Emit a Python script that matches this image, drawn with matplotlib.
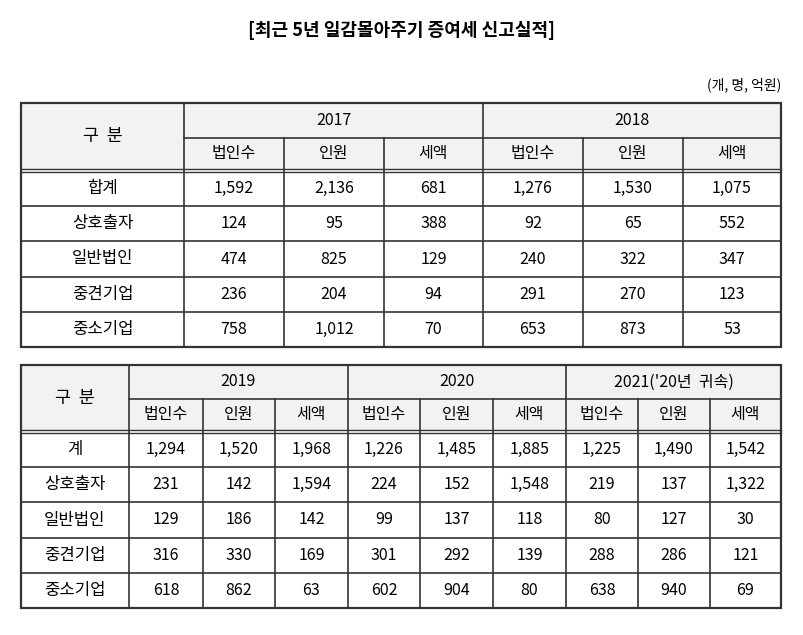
import matplotlib
matplotlib.use("Agg")
import matplotlib.pyplot as plt
from matplotlib.patches import Rectangle

plt.rcParams['font.family'] = ['Noto Sans CJK KR', 'DejaVu Sans']

title = "[최근 5년 일감몰아주기 증여세 신고실적]"
unit = "(개, 명, 억원)"
row_labels1 = ["합계", "상호출자", "일반법인", "중견기업", "중소기업"]
row_labels2 = ["계", "상호출자", "일반법인", "중견기업", "중소기업"]
sub_cols = ["법인수", "인원", "세액"]
years1 = ["2017", "2018"]
years2 = ["2019", "2020", "2021('20년  귀속)"]
v2017 = [[1592, 2136, 681], [124, 95, 388], [474, 825, 129], [236, 204, 94], [758, 1012, 70]]
v2018 = [[1276, 1530, 1075], [92, 65, 552], [240, 322, 347], [291, 270, 123], [653, 873, 53]]
v2019 = [[1294, 1520, 1968], [231, 142, 1594], [129, 186, 142], [316, 330, 169], [618, 862, 63]]
v2020 = [[1226, 1485, 1885], [224, 152, 1548], [99, 137, 118], [301, 292, 139], [602, 904, 80]]
v2021 = [[1225, 1490, 1542], [219, 137, 1322], [80, 127, 30], [288, 286, 121], [638, 940, 69]]

fig = plt.figure(figsize=(8.04, 6.35), dpi=100)
ax = fig.add_axes([0, 0, 1, 1])
ax.set_xlim(0, 804)
ax.set_ylim(635, 0)
ax.axis('off')

HDR = '#f2f2f2'
LC = '#333333'
FS = 11.5

def table(colx, top, yh, sub_y, hdr_bot, row_h, labels, years, data):
    left, right = colx[0], colx[-1]
    nrow = len(labels)
    bottom = hdr_bot + 2 + row_h * nrow
    ax.add_patch(Rectangle((left, top), right - left, hdr_bot - top, fc=HDR, ec='none'))
    # outer
    ax.add_patch(Rectangle((left, top), right - left, bottom - top, fc='none', ec=LC, lw=1.6))
    # label header
    ax.text((colx[0] + colx[1]) / 2, (top + hdr_bot) / 2, "구  분", ha='center', va='center', fontsize=FS + 1)
    ax.plot([colx[1], colx[1]], [top, bottom], color=LC, lw=1.2)
    ax.plot([colx[1], right], [sub_y, sub_y], color=LC, lw=1.2)
    for yi, y in enumerate(years):
        x0 = colx[1 + 3 * yi]; x1 = colx[4 + 3 * yi]
        ax.text((x0 + x1) / 2, (top + sub_y) / 2, y, ha='center', va='center', fontsize=FS)
        if yi > 0:
            ax.plot([x0, x0], [top, bottom], color=LC, lw=1.2)
        for k in range(3):
            a = colx[1 + 3 * yi + k]; b = colx[2 + 3 * yi + k]
            ax.text((a + b) / 2, (sub_y + hdr_bot) / 2, sub_cols[k], ha='center', va='center', fontsize=FS)
            if k > 0:
                ax.plot([a, a], [sub_y, bottom], color=LC, lw=1.2)
    # double line
    ax.plot([left, right], [hdr_bot, hdr_bot], color=LC, lw=1.0)
    ax.plot([left, right], [hdr_bot + 2.5, hdr_bot + 2.5], color=LC, lw=1.0)
    for r, lab in enumerate(labels):
        y0 = hdr_bot + 2 + row_h * r
        if r > 0:
            ax.plot([left, right], [y0, y0], color=LC, lw=1.2)
        yc = y0 + row_h / 2
        ax.text((colx[0] + colx[1]) / 2, yc, lab, ha='center', va='center', fontsize=FS + 0.5)
        for yi in range(len(years)):
            for k in range(3):
                a = colx[1 + 3 * yi + k]; b = colx[2 + 3 * yi + k]
                ax.text((a + b) / 2, yc, f"{data[yi][r][k]:,}", ha='center', va='center', fontsize=FS)

ax.text(402, 30, title, ha='center', va='center', fontsize=13, fontweight='bold')
ax.text(781, 85, unit, ha='right', va='center', fontsize=10)

table([21, 184, 284, 384, 483, 583, 683, 781], 103, None, 138, 169, 35.2,
      row_labels1, years1, [v2017, v2018])
table([21, 129, 203, 275, 348, 420, 493, 566, 638, 710, 781], 365, None, 399, 430, 35.2,
      row_labels2, years2, [v2019, v2020, v2021])

fig.savefig("out.png", dpi=100)
